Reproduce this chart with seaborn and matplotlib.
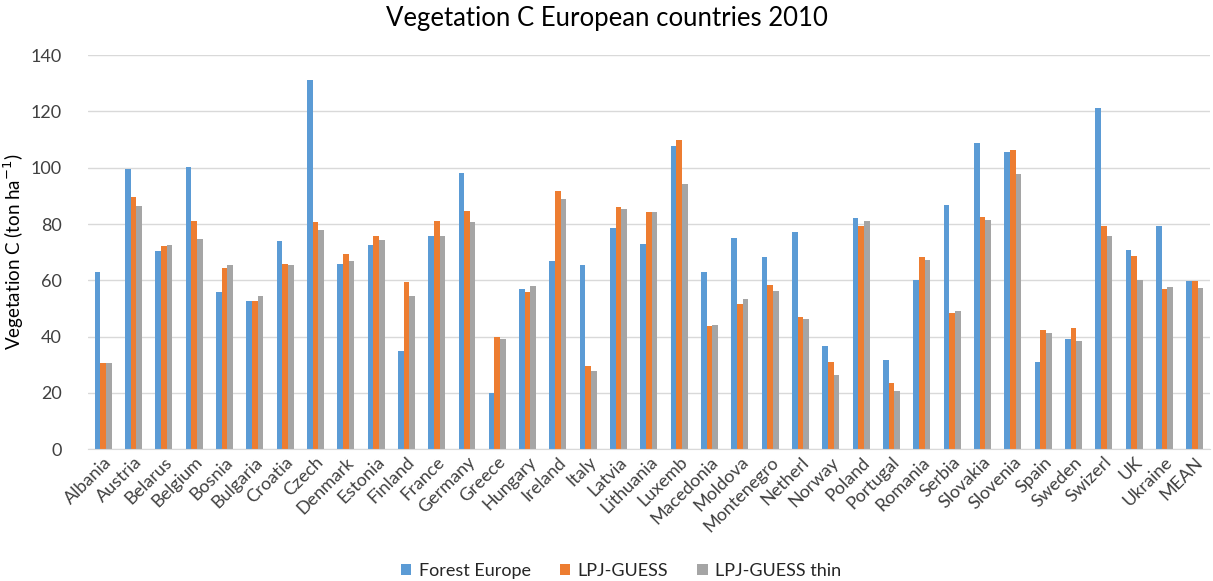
import matplotlib
matplotlib.use("Agg")
import matplotlib.pyplot as plt
import seaborn as sns
import pandas as pd

countries = ["Albania", "Austria", "Belarus", "Belgium", "Bosnia", "Bulgaria", "Croatia",
             "Czech", "Denmark", "Estonia", "Finland", "France", "Germany", "Greece",
             "Hungary", "Ireland", "Italy", "Latvia", "Lithuania", "Luxemb", "Macedonia",
             "Moldova", "Montenegro", "Netherl", "Norway", "Poland", "Portugal", "Romania",
             "Serbia", "Slovakia", "Slovenia", "Spain", "Sweden", "Swizerl", "UK",
             "Ukraine", "MEAN"]

forest_europe = [62.8, 99.5, 70.5, 100.3, 56.0, 52.7, 74.0, 131.3, 65.8, 72.7, 35.0, 75.8,
                 98.0, 20.0, 57.0, 66.8, 65.5, 78.6, 72.8, 107.6, 62.8, 75.0, 68.2, 77.2,
                 36.5, 82.3, 31.7, 60.0, 86.6, 108.8, 105.7, 30.8, 39.2, 121.2, 70.6,
                 79.3, 59.6]
lpj_guess = [30.5, 89.5, 72.3, 81.0, 64.5, 52.7, 65.8, 80.6, 69.5, 75.8, 59.5, 81.0,
             84.6, 39.7, 55.7, 91.7, 29.6, 86.0, 84.3, 109.8, 43.7, 51.5, 58.4, 46.8,
             31.0, 79.3, 23.5, 68.2, 48.4, 82.6, 106.4, 42.3, 43.0, 79.3, 68.6,
             56.8, 59.8]
lpj_guess_thin = [30.5, 86.5, 72.5, 74.8, 65.5, 54.5, 65.5, 78.0, 66.8, 74.3, 54.5, 75.7,
                  80.7, 39.2, 58.0, 89.0, 27.8, 85.3, 84.3, 94.1, 44.0, 53.5, 56.2, 46.4,
                  26.3, 80.9, 20.5, 67.3, 49.0, 81.4, 97.6, 41.1, 38.6, 75.8, 60.0,
                  57.7, 57.2]

series = ["Forest Europe", "LPJ-GUESS", "LPJ-GUESS thin"]
colors = ["#5B9BD5", "#ED7D31", "#A5A5A5"]

df = pd.DataFrame({
    "country": countries * 3,
    "value": forest_europe + lpj_guess + lpj_guess_thin,
    "series": [s for s in series for _ in countries],
})

sns.set_style("white")
plt.rcParams["font.family"] = ["Lato", "DejaVu Sans"]

fig = plt.figure(figsize=(12.13, 5.81), dpi=100)
ax = fig.add_axes([0.0725, 0.227, 0.925, 0.678])

sns.barplot(data=df, x="country", y="value", hue="series", palette=colors,
            width=0.56, ax=ax, saturation=1, edgecolor="none")

ax.set_ylim(0, 140)
ax.set_yticks(range(0, 141, 20))
ax.set_xlim(-0.5, len(countries) - 0.5)
ax.yaxis.grid(True, color="#D9D9D9", linewidth=1)
ax.set_axisbelow(True)
for s in ["top", "right", "left"]:
    ax.spines[s].set_visible(False)
ax.spines["bottom"].set_color("#D9D9D9")
ax.tick_params(axis="both", length=0, labelsize=13, colors="#404040")
ax.tick_params(axis="y", pad=19)
plt.setp(ax.get_xticklabels(), rotation=45, ha="right", rotation_mode="anchor")

ax.set_xlabel("")
ax.set_ylabel("Vegetation C (ton ha$^{-1}$)", fontsize=13.5, color="#000000", labelpad=3)
fig.suptitle("Vegetation C European countries 2010", fontsize=18.5, y=0.99, color="#000000")

ax.legend(loc="lower center", bbox_to_anchor=(0.475, -0.37), ncol=3, frameon=False,
          fontsize=13, handlelength=0.6, handleheight=0.6, columnspacing=1.6,
          handletextpad=0.4, title=None)

fig.savefig("out.png", dpi=100)
